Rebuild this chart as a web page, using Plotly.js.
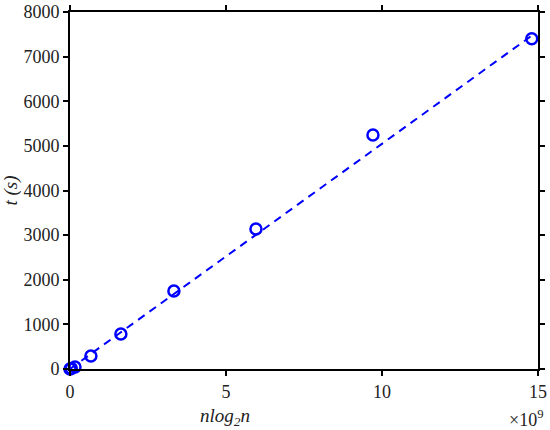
<!DOCTYPE html>
<html>
<head>
<meta charset="utf-8">
<script src="https://cdn.plot.ly/plotly-3.0.1.min.js"></script>
<style>html,body{margin:0;padding:0;background:#fff;}#chart{width:550px;height:430px;}</style>
</head>
<body>
<div id="chart"></div>
<script>
// x values in units of 1e9 (n log2 n), y values in seconds
const xVals = [0.0, 0.04, 0.16, 0.67, 1.63, 3.33, 5.96, 9.71, 14.8];
const yVals = [0, 10, 45, 291, 785, 1749, 3139, 5246, 7399];
// dashed fitted line endpoints
const fitX = [0, 14.8];
const fitY = [0, 7470];
const xTicks = [0, 5, 10, 15];
const yTicks = [0, 1000, 2000, 3000, 4000, 5000, 6000, 7000, 8000];

const blue = '#0000ff';
const serif = 'Liberation Serif, DejaVu Serif, serif';

const traces = [
  {x: fitX, y: fitY, mode: 'lines', type: 'scatter',
   line: {color: blue, width: 2, dash: '8px,6px'}, hoverinfo: 'skip', cliponaxis: false},
  {x: xVals, y: yVals, mode: 'markers', type: 'scatter',
   marker: {symbol: 'circle-open', size: 11, color: blue, line: {width: 2.5, color: blue}},
   cliponaxis: false}
];

const axisCommon = {
  showgrid: false, zeroline: false, showline: true, linecolor: '#000', linewidth: 2,
  ticks: 'outside', ticklen: 5, tickwidth: 2, tickcolor: '#000', mirror: 'allticks',
  tickfont: {family: serif, size: 18, color: '#222'}
};

const layout = {
  width: 550, height: 430,
  font: {family: serif, color: '#222', size: 18},
  margin: {l: 70, r: 12, t: 12, b: 61},
  paper_bgcolor: '#fff', plot_bgcolor: '#fff',
  showlegend: false,
  xaxis: Object.assign({}, axisCommon, {range: [0, 15], tickvals: xTicks, ticktext: xTicks.map(String)}),
  yaxis: Object.assign({}, axisCommon, {range: [0, 8000], tickvals: yTicks, ticktext: yTicks.map(String),
    title: {text: '<i>t (s)</i>', font: {family: serif, size: 19, color: '#222'}, standoff: 6}}),
  annotations: [
    {text: '<i>nlog<sub>2</sub>n</i>', xref: 'paper', yref: 'paper', x: 0.332, y: -0.095,
     xanchor: 'center', yanchor: 'top', showarrow: false, font: {family: serif, size: 19, color: '#222'}},
    {text: '×10<sup>9</sup>', xref: 'paper', yref: 'paper', x: 1.015, y: -0.1,
     xanchor: 'right', yanchor: 'top', showarrow: false, font: {family: serif, size: 18, color: '#222'}}
  ]
};

Plotly.newPlot('chart', traces, layout, {displayModeBar: false, staticPlot: true});
</script>
</body>
</html>
